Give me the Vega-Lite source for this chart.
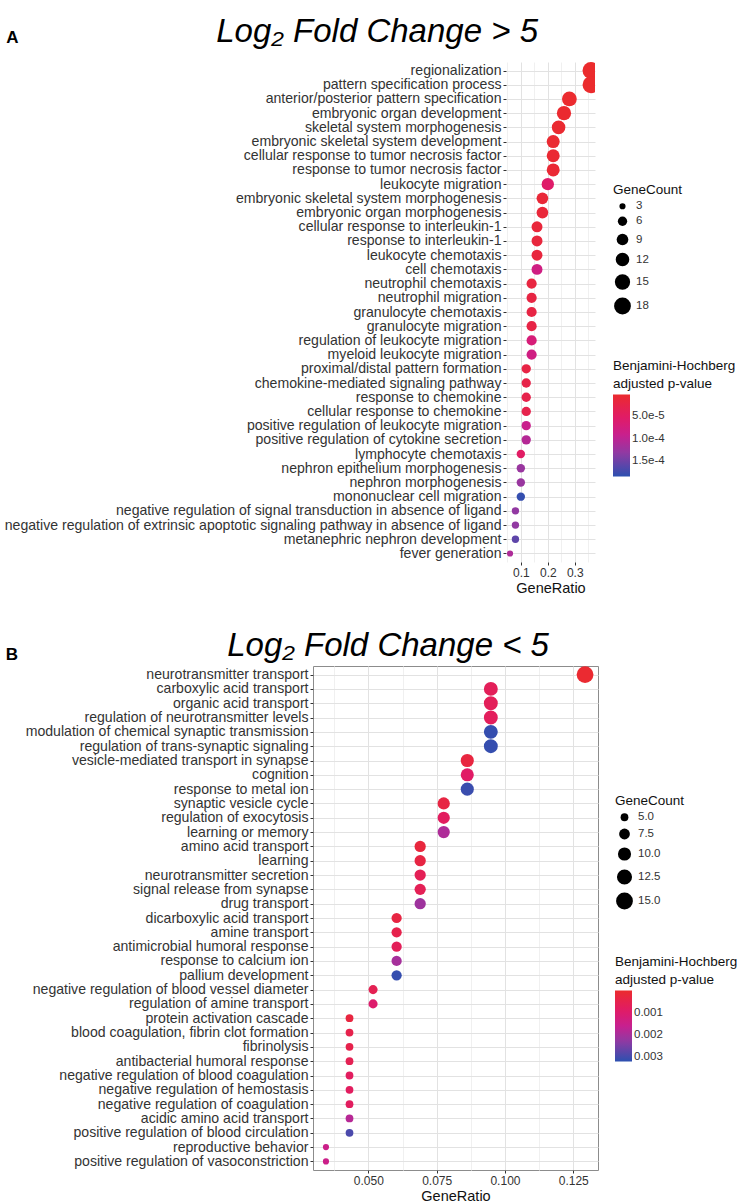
{
  "$schema": "https://vega.github.io/schema/vega-lite/v6.json",
  "background": "white",
  "padding": {"left": 4, "top": 16, "right": 2, "bottom": 2},
  "autosize": {"type": "pad"},
  "config": {
    "font": "Liberation Sans",
    "view": {"stroke": "#8c8c8c", "strokeWidth": 1},
    "axis": {"labelFont": "Liberation Sans", "titleFont": "Liberation Sans", "labelColor": "#333333", "titleColor": "#111111", "titleFontWeight": "normal", "tickColor": "#333333", "tickSize": 3, "domain": false, "gridColor": "#e2e2e2", "gridWidth": 1, "labelPadding": 2, "labelOverlap": false},
    "legend": {"titleFont": "Liberation Sans", "labelFont": "Liberation Sans", "titleFontWeight": "normal", "titleFontSize": 13.5, "labelFontSize": 11.5, "labelColor": "#333333", "titleColor": "#111111", "padding": 0, "titleLimit": 300},
    "title": {"font": "Liberation Sans", "color": "#000000"}
  },
  "datasets": {
    "up": [
      {"term": "regionalization", "GeneRatio": 0.36, "GeneCount": 18, "padj": 0.0000002},
      {"term": "pattern specification process", "GeneRatio": 0.36, "GeneCount": 18, "padj": 0.0000003},
      {"term": "anterior/posterior pattern specification", "GeneRatio": 0.28, "GeneCount": 14, "padj": 0.0000015},
      {"term": "embryonic organ development", "GeneRatio": 0.26, "GeneCount": 13, "padj": 0.000003},
      {"term": "skeletal system morphogenesis", "GeneRatio": 0.24, "GeneCount": 12, "padj": 0.000004},
      {"term": "embryonic skeletal system development", "GeneRatio": 0.22, "GeneCount": 11, "padj": 0.000005},
      {"term": "cellular response to tumor necrosis factor", "GeneRatio": 0.22, "GeneCount": 11, "padj": 0.000006},
      {"term": "response to tumor necrosis factor", "GeneRatio": 0.22, "GeneCount": 11, "padj": 0.000007},
      {"term": "leukocyte migration", "GeneRatio": 0.20, "GeneCount": 10, "padj": 0.000055},
      {"term": "embryonic skeletal system morphogenesis", "GeneRatio": 0.18, "GeneCount": 9, "padj": 0.00001},
      {"term": "embryonic organ morphogenesis", "GeneRatio": 0.18, "GeneCount": 9, "padj": 0.000012},
      {"term": "cellular response to interleukin-1", "GeneRatio": 0.16, "GeneCount": 8, "padj": 0.000013},
      {"term": "response to interleukin-1", "GeneRatio": 0.16, "GeneCount": 8, "padj": 0.000015},
      {"term": "leukocyte chemotaxis", "GeneRatio": 0.16, "GeneCount": 8, "padj": 0.000016},
      {"term": "cell chemotaxis", "GeneRatio": 0.16, "GeneCount": 8, "padj": 0.00008},
      {"term": "neutrophil chemotaxis", "GeneRatio": 0.14, "GeneCount": 7, "padj": 0.000018},
      {"term": "neutrophil migration", "GeneRatio": 0.14, "GeneCount": 7, "padj": 0.00002},
      {"term": "granulocyte chemotaxis", "GeneRatio": 0.14, "GeneCount": 7, "padj": 0.000021},
      {"term": "granulocyte migration", "GeneRatio": 0.14, "GeneCount": 7, "padj": 0.000023},
      {"term": "regulation of leukocyte migration", "GeneRatio": 0.14, "GeneCount": 7, "padj": 0.00007},
      {"term": "myeloid leukocyte migration", "GeneRatio": 0.14, "GeneCount": 7, "padj": 0.00008},
      {"term": "proximal/distal pattern formation", "GeneRatio": 0.12, "GeneCount": 6, "padj": 0.000022},
      {"term": "chemokine-mediated signaling pathway", "GeneRatio": 0.12, "GeneCount": 6, "padj": 0.000026},
      {"term": "response to chemokine", "GeneRatio": 0.12, "GeneCount": 6, "padj": 0.000028},
      {"term": "cellular response to chemokine", "GeneRatio": 0.12, "GeneCount": 6, "padj": 0.000028},
      {"term": "positive regulation of leukocyte migration", "GeneRatio": 0.12, "GeneCount": 6, "padj": 0.00009},
      {"term": "positive regulation of cytokine secretion", "GeneRatio": 0.12, "GeneCount": 6, "padj": 0.000105},
      {"term": "lymphocyte chemotaxis", "GeneRatio": 0.10, "GeneCount": 5, "padj": 0.00005},
      {"term": "nephron epithelium morphogenesis", "GeneRatio": 0.10, "GeneCount": 5, "padj": 0.000125},
      {"term": "nephron morphogenesis", "GeneRatio": 0.10, "GeneCount": 5, "padj": 0.000125},
      {"term": "mononuclear cell migration", "GeneRatio": 0.10, "GeneCount": 5, "padj": 0.00018},
      {"term": "negative regulation of signal transduction in absence of ligand", "GeneRatio": 0.08, "GeneCount": 4, "padj": 0.00013},
      {"term": "negative regulation of extrinsic apoptotic signaling pathway in absence of ligand", "GeneRatio": 0.08, "GeneCount": 4, "padj": 0.00013},
      {"term": "metanephric nephron development", "GeneRatio": 0.08, "GeneCount": 4, "padj": 0.000158},
      {"term": "fever generation", "GeneRatio": 0.06, "GeneCount": 3, "padj": 0.00011}
    ],
    "down": [
      {"term": "neurotransmitter transport", "GeneRatio": 0.12931, "GeneCount": 15, "padj": 0.00006},
      {"term": "carboxylic acid transport", "GeneRatio": 0.094828, "GeneCount": 11, "padj": 0.0007},
      {"term": "organic acid transport", "GeneRatio": 0.094828, "GeneCount": 11, "padj": 0.0007},
      {"term": "regulation of neurotransmitter levels", "GeneRatio": 0.094828, "GeneCount": 11, "padj": 0.00075},
      {"term": "modulation of chemical synaptic transmission", "GeneRatio": 0.094828, "GeneCount": 11, "padj": 0.0031},
      {"term": "regulation of trans-synaptic signaling", "GeneRatio": 0.094828, "GeneCount": 11, "padj": 0.0031},
      {"term": "vesicle-mediated transport in synapse", "GeneRatio": 0.086207, "GeneCount": 10, "padj": 0.0003},
      {"term": "cognition", "GeneRatio": 0.086207, "GeneCount": 10, "padj": 0.0009},
      {"term": "response to metal ion", "GeneRatio": 0.086207, "GeneCount": 10, "padj": 0.00305},
      {"term": "synaptic vesicle cycle", "GeneRatio": 0.077586, "GeneCount": 9, "padj": 0.00035},
      {"term": "regulation of exocytosis", "GeneRatio": 0.077586, "GeneCount": 9, "padj": 0.0008},
      {"term": "learning or memory", "GeneRatio": 0.077586, "GeneCount": 9, "padj": 0.0019},
      {"term": "amino acid transport", "GeneRatio": 0.068966, "GeneCount": 8, "padj": 0.00025},
      {"term": "learning", "GeneRatio": 0.068966, "GeneCount": 8, "padj": 0.00035},
      {"term": "neurotransmitter secretion", "GeneRatio": 0.068966, "GeneCount": 8, "padj": 0.00065},
      {"term": "signal release from synapse", "GeneRatio": 0.068966, "GeneCount": 8, "padj": 0.00065},
      {"term": "drug transport", "GeneRatio": 0.068966, "GeneCount": 8, "padj": 0.0021},
      {"term": "dicarboxylic acid transport", "GeneRatio": 0.060345, "GeneCount": 7, "padj": 0.00035},
      {"term": "amine transport", "GeneRatio": 0.060345, "GeneCount": 7, "padj": 0.0005},
      {"term": "antimicrobial humoral response", "GeneRatio": 0.060345, "GeneCount": 7, "padj": 0.0007},
      {"term": "response to calcium ion", "GeneRatio": 0.060345, "GeneCount": 7, "padj": 0.002},
      {"term": "pallium development", "GeneRatio": 0.060345, "GeneCount": 7, "padj": 0.0031},
      {"term": "negative regulation of blood vessel diameter", "GeneRatio": 0.051724, "GeneCount": 6, "padj": 0.0006},
      {"term": "regulation of amine transport", "GeneRatio": 0.051724, "GeneCount": 6, "padj": 0.001},
      {"term": "protein activation cascade", "GeneRatio": 0.043103, "GeneCount": 5, "padj": 0.0003},
      {"term": "blood coagulation, fibrin clot formation", "GeneRatio": 0.043103, "GeneCount": 5, "padj": 0.0005},
      {"term": "fibrinolysis", "GeneRatio": 0.043103, "GeneCount": 5, "padj": 0.0005},
      {"term": "antibacterial humoral response", "GeneRatio": 0.043103, "GeneCount": 5, "padj": 0.0006},
      {"term": "negative regulation of blood coagulation", "GeneRatio": 0.043103, "GeneCount": 5, "padj": 0.0008},
      {"term": "negative regulation of hemostasis", "GeneRatio": 0.043103, "GeneCount": 5, "padj": 0.0008},
      {"term": "negative regulation of coagulation", "GeneRatio": 0.043103, "GeneCount": 5, "padj": 0.0008},
      {"term": "acidic amino acid transport", "GeneRatio": 0.043103, "GeneCount": 5, "padj": 0.0018},
      {"term": "positive regulation of blood circulation", "GeneRatio": 0.043103, "GeneCount": 5, "padj": 0.0029},
      {"term": "reproductive behavior", "GeneRatio": 0.034483, "GeneCount": 4, "padj": 0.0015},
      {"term": "positive regulation of vasoconstriction", "GeneRatio": 0.034483, "GeneCount": 4, "padj": 0.0015}
    ]
  },
  "spacing": 34,
  "resolve": {
    "scale": {"x": "independent", "y": "independent", "color": "independent", "size": "independent"},
    "axis": {"x": "independent", "y": "independent"},
    "legend": {"color": "independent", "size": "independent"}
  },
  "vconcat": [
    {
      "title": {"text": "A", "anchor": "start", "frame": "bounds", "fontSize": 17, "fontWeight": "bold", "offset": -31, "dx": 2},
      "resolve": {
        "scale": {"x": "independent", "y": "independent", "color": "independent", "size": "independent"},
        "legend": {"color": "independent", "size": "independent"}
      },
      "vconcat": [
        {
          "title": {"text": "Log₂ Fold Change > 5", "anchor": "start", "frame": "bounds", "dx": 212, "offset": 13, "fontSize": 33, "font": "Liberation Sans", "fontStyle": "italic", "fontWeight": "normal"},
          "width": 282,
          "height": 500,
          "view": {"stroke": null},
          "data": {"name": "up"},
          "encoding": {
            "y": {"field": "term", "type": "nominal", "sort": null, "scale": {"type": "point", "padding": 0.6}, "axis": {"title": null, "labelFontSize": 14.1, "labelLimit": 700, "grid": true, "offset": -193}},
            "x": {"field": "GeneRatio", "type": "quantitative", "scale": {"domain": [0.045, 0.375], "range": [193, 282], "nice": false, "zero": false},
              "axis": {"title": "GeneRatio", "titleFontSize": 14.5, "titlePadding": 3, "labelFontSize": 12, "labelFlush": false,
                "values": [0.05, 0.1, 0.15, 0.2, 0.25, 0.3, 0.35],
                "labelExpr": "round(datum.value*20) % 2 == 1 ? '' : format(datum.value, '.1f')",
                "tickOpacity": {"condition": {"test": "round(datum.value*20) % 2 == 1", "value": 0}, "value": 1},
                "gridColor": {"condition": {"test": "round(datum.value*20) % 2 == 1", "value": "#f0f0f0"}, "value": "#e2e2e2"}}}
          },
          "layer": [
            {
              "mark": {"type": "circle", "opacity": 1, "clip": true},
              "encoding": {
                "size": {"field": "GeneCount", "type": "quantitative", "scale": {"domain": [3, 18], "range": [38, 283], "zero": false, "nice": false},
                  "legend": {"title": "GeneCount", "values": [3, 6, 9, 12, 15, 18], "orient": "none", "legendX": 300, "legendY": 121, "titlePadding": 4, "rowPadding": 1, "symbolType": "circle",
                    "encode": {"symbols": {"update": {"fill": {"value": "black"}, "stroke": {"value": "black"}, "opacity": {"value": 1}}}}}},
                "color": {"field": "padj", "type": "quantitative",
                  "scale": {"domain": [0.000184, 0.0001328, 0.0000925, 0.0000522, 0.000001], "range": ["#2C50B0", "#8E3BA3", "#C7208F", "#E11B66", "#EB2B2E"], "interpolate": "rgb", "nice": false, "zero": false},
                  "legend": {"title": ["Benjamini-Hochberg", "adjusted p-value"], "values": [0.00005, 0.0001, 0.00015], "format": ".1e", "orient": "none", "legendX": 300, "legendY": 297, "gradientLength": 82, "gradientThickness": 17, "titlePadding": 4, "titleLineHeight": 18, "gradientStrokeWidth": 0}}
              }
            },
            {
              "data": {"values": [{}]},
              "mark": {"type": "rect", "fillOpacity": 0, "stroke": "#8c8c8c", "strokeWidth": 1},
              "encoding": {
                "x": {"datum": 0.045, "type": "quantitative"},
                "x2": {"datum": 0.375}
              }
            }
          ]
        }
      ]
    },
    {
      "title": {"text": "B", "anchor": "start", "frame": "bounds", "fontSize": 17, "fontWeight": "bold", "offset": -34, "dx": -19},
      "resolve": {
        "scale": {"x": "independent", "y": "independent", "color": "independent", "size": "independent"},
        "legend": {"color": "independent", "size": "independent"}
      },
      "vconcat": [
        {
          "title": {"text": "Log₂ Fold Change < 5", "anchor": "start", "frame": "bounds", "dx": 202, "offset": 3, "fontSize": 33, "font": "Liberation Sans", "fontStyle": "italic", "fontWeight": "normal"},
          "width": 285,
          "height": 504,
          "data": {"name": "down"},
          "mark": {"type": "circle", "opacity": 1, "clip": true},
          "encoding": {
            "y": {"field": "term", "type": "nominal", "sort": null, "scale": {"type": "point", "padding": 0.6}, "axis": {"title": null, "labelFontSize": 14.1, "labelLimit": 700, "grid": true}},
            "x": {"field": "GeneRatio", "type": "quantitative", "scale": {"domain": [0.029741, 0.134052], "nice": false, "zero": false},
              "axis": {"title": "GeneRatio", "titleFontSize": 14.5, "titlePadding": 3, "labelFontSize": 12, "labelFlush": false,
                "values": [0.0375, 0.05, 0.0625, 0.075, 0.0875, 0.1, 0.1125, 0.125],
                "labelExpr": "round(datum.value*80) % 2 == 1 ? '' : format(datum.value, '.3f')",
                "tickOpacity": {"condition": {"test": "round(datum.value*80) % 2 == 1", "value": 0}, "value": 1},
                "gridColor": {"condition": {"test": "round(datum.value*80) % 2 == 1", "value": "#f0f0f0"}, "value": "#e2e2e2"}}},
            "size": {"field": "GeneCount", "type": "quantitative", "scale": {"domain": [4, 15], "range": [38, 283], "zero": false, "nice": false},
              "legend": {"title": "GeneCount", "values": [5, 7.5, 10, 12.5, 15], "format": ".1f", "orient": "none", "legendX": 302, "legendY": 128, "titlePadding": 4, "rowPadding": 1, "symbolType": "circle",
                "encode": {"symbols": {"update": {"fill": {"value": "black"}, "stroke": {"value": "black"}, "opacity": {"value": 1}}}}}},
            "color": {"field": "padj", "type": "quantitative",
              "scale": {"domain": [0.00318, 0.002295, 0.0016, 0.000905, 0.00002], "range": ["#2C50B0", "#8E3BA3", "#C7208F", "#E11B66", "#EB2B2E"], "interpolate": "rgb", "nice": false, "zero": false},
              "legend": {"title": ["Benjamini-Hochberg", "adjusted p-value"], "values": [0.001, 0.002, 0.003], "format": ".3f", "orient": "none", "legendX": 302, "legendY": 289, "gradientLength": 71, "gradientThickness": 17, "titlePadding": 4, "titleLineHeight": 18, "gradientStrokeWidth": 0}}
          }
        }
      ]
    }
  ]
}
